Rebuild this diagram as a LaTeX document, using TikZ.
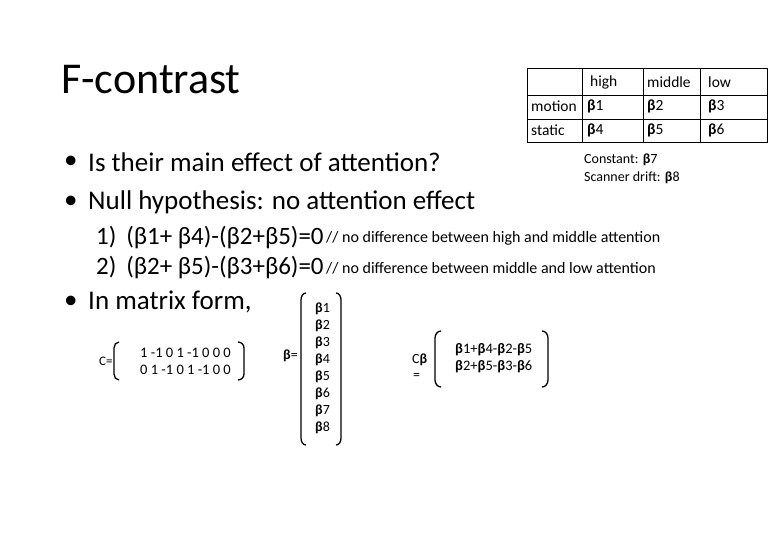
\documentclass[tikz,border=0pt]{standalone}
\usepackage{fontspec}
\setmainfont{Carlito}
\begin{document}
\begin{tikzpicture}[x=1pt,y=-1pt,
  t/.style={anchor=west,inner sep=0pt},
  big/.style={t,font=\fontsize{27}{30}\selectfont},
  mid/.style={t,font=\fontsize{25}{28}\selectfont},
  sm/.style={t,font=\fontsize{16}{18}\selectfont},
  cs/.style={t,font=\fontsize{14}{17}\selectfont},
  tb/.style={t,font=\fontsize{15.5}{17}\selectfont},
  br/.style={line width=1.3pt}]
\useasboundingbox (0,0) rectangle (780,540);
\node[t,font=\fontsize{44}{48}\selectfont] (title) at (61,80) {F-contrast};
% table
\draw[line width=1pt] (527,69) rectangle (767,143);
\foreach \y in {96,120} \draw[line width=1pt] (527,\y) -- (767,\y);
\foreach \x in {582,643,700} \draw[line width=1pt] (\x,69) -- (\x,143);
\node[tb] (h) at (590,82) {high};
\node[tb] (m) at (647,82) {middle};
\node[tb] (l) at (708,82) {low};
\node[tb] (mo) at (531,106) {motion};
\node[tb] (st) at (531,130) {static};
\node[tb] (b1) at (587,106) {\textbf{β}1};
\node[tb] (b2) at (647,106) {\textbf{β}2};
\node[tb] (b3) at (708,106) {\textbf{β}3};
\node[tb] (b4) at (587,130) {\textbf{β}4};
\node[tb] (b5) at (647,130) {\textbf{β}5};
\node[tb] (b6) at (708,130) {\textbf{β}6};
\node[cs] (c7) at (584,160) {Constant: \textbf{β}7};
\node[cs] (c8) at (584,178) {Scanner drift: \textbf{β}8};
% bullets
\node[big] (d1) at (64,162) {•};
\node[big] (q1) at (88,162) {Is their main effect of attention?};
\node[big] (d2) at (64,202) {•};
\node[big] (q2) at (88,202) {Null hypothesis: no attention effect};
\node[mid] (e1) at (96,238) {1)\,\ (β1+ β4)-(β2+β5)=0};
\node[mid] (e2) at (96,268) {2)\,\ (β2+ β5)-(β3+β6)=0};
\node[sm] (k1) at (326,238) {//\ no difference between high and middle attention};
\node[sm] (k2) at (326,268) {//\ no difference between middle and low attention};
\node[big] (d3) at (64,302) {•};
\node[big] (q3) at (88,302) {In matrix form,};
% C matrix
\node[t,font=\fontsize{13}{15}\selectfont] (cl) at (99,361) {C=};
\draw[br] (119,342) to[out=180,in=90] (114,348) -- (114,374) to[out=-90,in=180] (119,380);
\node[t,font=\fontsize{14.5}{17}\selectfont,align=left] (cm) at (140,361) {1 -1 0 1 -1 0 0 0\\0 1 -1 0 1 -1 0 0};
\draw[br] (238,342) to[out=0,in=90] (244,348) -- (244,374) to[out=-90,in=0] (238,380);
% beta vector
\node[t,font=\fontsize{14}{15}\selectfont] (bl) at (283,356) {\textbf{β}=};
\draw[br] (306,293) to[out=180,in=90] (301,300) -- (301,438) to[out=-90,in=180] (306,445);
\node[t,font=\fontsize{14}{17}\selectfont,align=left] (bv) at (315,368) {\textbf{β}1\\\textbf{β}2\\\textbf{β}3\\\textbf{β}4\\\textbf{β}5\\\textbf{β}6\\\textbf{β}7\\\textbf{β}8};
\draw[br] (336,293) to[out=0,in=90] (341,300) -- (341,438) to[out=-90,in=0] (336,445);
% C beta
\node[t,font=\fontsize{14}{15}\selectfont] (cb) at (412,360) {C\textbf{β}};
\node[t,font=\fontsize{14}{15}\selectfont] (eq) at (413,376) {=};
\draw[br] (441,331) to[out=180,in=90] (435,338) -- (435,380) to[out=-90,in=180] (441,387);
\node[t,font=\fontsize{14.5}{17}\selectfont,align=left] (cr) at (455,358) {\textbf{β}1+\textbf{β}4-\textbf{β}2-\textbf{β}5\\\textbf{β}2+\textbf{β}5-\textbf{β}3-\textbf{β}6};
\draw[br] (542,331) to[out=0,in=90] (548,338) -- (548,380) to[out=-90,in=0] (542,387);
\end{tikzpicture}
\end{document}
